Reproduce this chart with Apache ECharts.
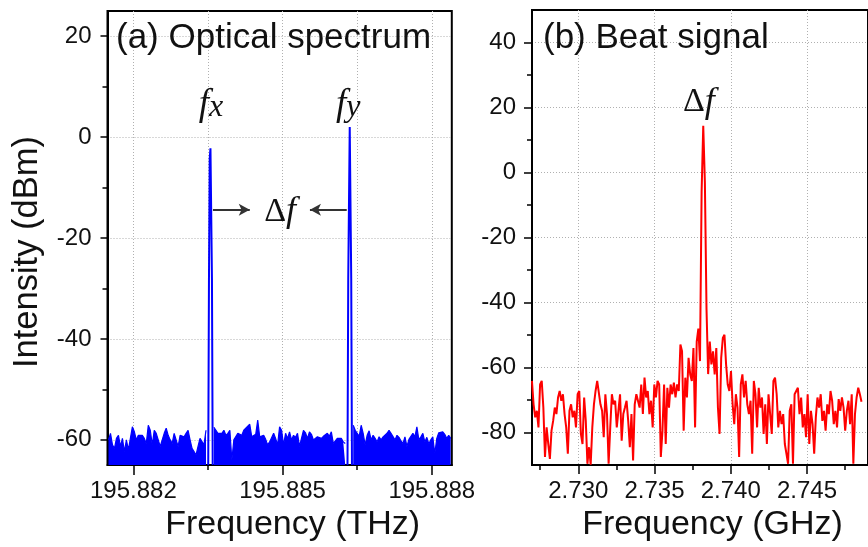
<!DOCTYPE html>
<html><head><meta charset="utf-8">
<script src="https://cdn.jsdelivr.net/npm/echarts@6/dist/echarts.min.js"></script>
<style>html,body{margin:0;padding:0;background:#fff}#c{width:868px;height:547px}</style>
</head><body><div id="c"></div><script>
// ---------- Tick values ----------
const optYTicks = [-60, -40, -20, 0, 20];
const optYMinorTicks = [-50, -30, -10, 10];
const optXTicks = [195.882, 195.8835, 195.885, 195.8865, 195.888];
const optXLabels = [195.882, 195.885, 195.888];
const rfXTicks = [2.730, 2.735, 2.740, 2.745];
const rfXMinorTicks = [2.7275, 2.7325, 2.7375, 2.7425, 2.7475];
const rfYTicks = [-80, -60, -40, -20, 0, 20, 40];
const rfYMinorTicks = [-70, -50, -30, -10, 10, 30];

// ---------- (a) Optical spectrum: OSA sweep grid (THz) and noise-floor trace (dBm) ----------
const optSweepStart = 195.8815;
const optSweepStep = 0.00004;
const optNoise = [
  -60.0, -58.7, -61.0, -61.7, -59.7, -59.1, -61.3, -59.7, -62.3, -60.0,
  -62.0, -59.7, -57.4, -58.4, -60.0, -59.1, -59.4, -59.1, -59.7, -60.7,
  -57.1, -58.1, -61.0, -58.1, -58.7, -60.0, -61.3, -60.0, -58.7, -57.7,
  -59.1, -60.0, -60.7, -58.7, -60.0, -61.3, -59.1, -59.4, -59.4, -58.7,
  -58.1, -60.0, -61.7, -62.3, -63.0, -61.3, -59.7, -60.0, -61.0, -58.1,
  null, null, null,
  -57.5, -58.1, -58.7, -58.4, -58.7, -58.1, -59.1, -58.7, -58.1, -64.0,
  -60.0, -59.7, -58.7, -58.4, -59.1, -58.1, -58.4, -57.3, -56.9, -59.4,
  -59.1, -58.9, -56.1, -59.4, -59.7, -59.1, -59.9, -61.0, -60.4, -60.7,
  -58.7, -59.7, -61.0, -57.4, -58.1, -61.0, -58.7, -59.7, -58.4, -60.0,
  -59.1, -59.5, -58.7, -61.3, -59.7, -58.1, -58.6, -59.7, -58.4, -58.9,
  -60.0, -60.2, -59.4, -59.5, -59.7, -59.3, -59.4, -58.7, -59.3, -58.4,
  -60.7, -61.0, -59.7, -60.0, -59.7, -60.4, -60.7,
  null, null, null,
  -57.1, -58.1, -58.7, -59.3, -57.1, -58.7, -61.0, -59.1, -58.2, -60.0,
  -59.1, -59.7, -60.4, -59.4, -60.0, -59.4, -59.7, -58.7, -58.1, -58.7,
  -58.7, -60.0, -59.1, -59.5, -60.2, -60.7, -59.4, -61.3, -59.9, -59.3,
  -58.7, -59.4, -57.4, -60.0, -59.4, -58.7, -60.4, -59.5, -60.8, -60.0,
  -59.4, -62.7, -59.7, -58.6, -58.7, -58.4, -58.9, -59.7, -59.1, -59.7
];
// laser lines fx and fy
const fxPeakFreq = [195.883505, 195.88352, 195.883535, 195.88355, 195.88358, 195.883595];
const fxPeakLevel = [-65, -28, -4.3, -2.2, -28, -65];
const fyPeakFreq = [195.886305, 195.88632, 195.88635, 195.88638, 195.886395];
const fyPeakLevel = [-65, -28, 2.0, -28, -65];

// ---------- (b) Beat signal: ESA sweep grid (GHz) and trace (dBm) ----------
const rfSweepStart = 2.72696;
const rfSweepStep = 0.000107;
const rfPower = [
  -64.1, -71.3, -75.3, -73.3, -78.4, -65.2, -64.1, -72.3, -87.5, -78.4,
  -83.5, -88.1, -79.4, -76.4, -72.3, -74.3, -69.2, -67.2, -70.2, -68.2,
  -74.3, -78.4, -86.5, -73.3, -71.3, -75.3, -73.3, -78.4, -68.2, -67.2,
  -80.4, -83.5, -69.2, -76.4, -89.6, -84.5, -89.9, -78.4, -71.3, -67.2,
  -64.1, -63.6, -71.3, -73.3, -81.4, -68.2, -74.3, -89.6, -78.4, -68.2,
  -71.3, -70.2, -78.4, -73.3, -68.2, -82.5, -74.3, -72.3, -70.2, -76.4,
  -84.5, -74.3, -88.6, -71.3, -68.2,
  -68.2, -72.3, -65.2, -74.3, -63.1, -69.2, -67.2, -74.3, -70.2, -78.4,
  -65.2, -69.2, -64.1, -65.2, -87.5, -79.4, -65.2, -83.5, -66.2, -72.3,
  -65.2, -68.2, -64.6, -69.2, -65.2, -67.2, -52.9, -55.0, -79.4, -63.1,
  -69.2, -57.0, -62.1, -64.1, -54.0, -78.4, -52.0, -48.0, -58.0, -6.0,
  14.4, -3.0, -42.0, -62.0, -52.0, -59.0, -55.0, -62.1, -54.0, -72.3,
  -80.4, -57.0, -50.9, -49.9, -59.0, -65.2, -67.2, -61.1, -71.3, -77.4,
  -68.2, -72.3, -87.5, -65.2, -62.1, -69.2, -64.1, -71.3,
  -74.3, -70.2, -86.5, -64.1, -68.2, -78.4, -66.2, -72.3, -69.2, -80.4,
  -71.3, -83.5, -68.2, -74.3, -80.4, -64.1, -63.1, -68.2, -78.4, -73.3,
  -77.4, -74.3, -83.5, -86.5, -89.6, -73.3, -71.3, -89.6, -68.2, -67.2,
  -66.2, -74.3, -69.2, -78.4, -74.3, -81.4, -68.2, -83.5, -73.3, -77.4,
  -86.5, -75.3, -69.2, -72.3, -68.2, -76.4, -73.3, -79.4, -71.3, -74.3,
  -67.2, -70.2, -77.4, -73.3, -78.4, -69.7, -73.3, -69.2, -72.3, -79.4,
  -73.3, -70.2, -77.4, -68.2, -89.6, -74.3, -69.2, -66.2, -68.2, -70.5
];

// ---------- build series data ----------
const optNoiseData = optNoise.map((v, i) => [+(optSweepStart + i * optSweepStep).toFixed(6), v]);
const fxData = fxPeakFreq.map((f, i) => [f, fxPeakLevel[i]]);
const fyData = fyPeakFreq.map((f, i) => [f, fyPeakLevel[i]]);
const rfData = rfPower.map((v, i) => [+(rfSweepStart + i * rfSweepStep).toFixed(6), v]);

const SANS = 'Liberation Sans, Arial, sans-serif';
const SERIF = 'Liberation Serif, Times New Roman, serif';
const INK = '#111';
const gridLine = { show: true, lineStyle: { color: '#b0b0b0', width: 1, type: [1, 2] } };
const axisLine = { show: true, onZero: false, lineStyle: { color: '#000', width: 2 } };
const hiddenLine = { show: false, onZero: false };
const tickStyle = { color: '#000', width: 1.5 };
const labelStyle = { fontFamily: SANS, fontSize: 24, color: INK };

const chart = echarts.init(document.getElementById('c'), null, { renderer: 'canvas' });
chart.setOption({
  animation: false,
  backgroundColor: '#fff',
  title: [
    { text: '(a) Optical spectrum', left: 116, top: 21, padding: 0,
      textStyle: { fontFamily: SANS, fontSize: 35, fontWeight: 'normal', color: INK } },
    { text: '(b) Beat signal', left: 543, top: 21, padding: 0,
      textStyle: { fontFamily: SANS, fontSize: 35, fontWeight: 'normal', color: INK } }
  ],
  grid: [
    { left: 107.5, top: 11, width: 344.3, height: 458.5, show: true, borderColor: '#000', borderWidth: 2, containLabel: false },
    { left: 532, top: 10, width: 343.5, height: 459, show: true, borderColor: '#000', borderWidth: 2, containLabel: false }
  ],
  xAxis: [
    { type: 'value', gridIndex: 0, position: 'bottom', min: 195.88148, max: 195.888402,
      name: 'Frequency (THz)', nameLocation: 'middle', nameGap: 41,
      nameTextStyle: { fontFamily: SANS, fontSize: 34, color: INK, padding: [0, 0, 0, 26] },
      axisLine: axisLine,
      axisTick: { show: true, length: 5, lineStyle: tickStyle, customValues: optXTicks },
      axisLabel: { show: true, margin: 14, customValues: optXLabels, ...labelStyle, formatter: v => v.toFixed(3) },
      splitLine: gridLine },
    { type: 'value', gridIndex: 0, position: 'bottom', min: 195.88148, max: 195.888402,
      axisLine: hiddenLine,
      axisTick: { show: true, length: 10, lineStyle: tickStyle, customValues: optXLabels },
      axisLabel: { show: false }, splitLine: { show: false } },
    { type: 'value', gridIndex: 1, position: 'bottom', min: 2.726964, max: 2.749,
      name: 'Frequency (GHz)', nameLocation: 'middle', nameGap: 41,
      nameTextStyle: { fontFamily: SANS, fontSize: 34, color: INK, padding: [0, 0, 0, 25] },
      axisLine: axisLine,
      axisTick: { show: true, length: 9, lineStyle: tickStyle, customValues: rfXTicks },
      axisLabel: { show: true, margin: 14, customValues: rfXTicks, ...labelStyle, formatter: v => v.toFixed(3) },
      splitLine: gridLine },
    { type: 'value', gridIndex: 1, position: 'bottom', min: 2.726964, max: 2.749,
      axisLine: hiddenLine,
      axisTick: { show: true, length: 5, lineStyle: tickStyle, customValues: rfXMinorTicks },
      axisLabel: { show: false }, splitLine: { show: false } }
  ],
  yAxis: [
    { type: 'value', gridIndex: 0, position: 'left', min: -65, max: 25,
      name: 'Intensity (dBm)', nameLocation: 'middle', nameGap: 63,
      nameTextStyle: { fontFamily: SANS, fontSize: 34.5, color: INK, padding: [0, 28, 0, 0] },
      axisLine: axisLine,
      axisTick: { show: true, length: 7, lineStyle: tickStyle, customValues: optYTicks },
      axisLabel: { show: true, margin: 16, customValues: optYTicks, ...labelStyle },
      splitLine: gridLine },
    { type: 'value', gridIndex: 0, position: 'left', min: -65, max: 25,
      axisLine: hiddenLine,
      axisTick: { show: true, length: 5, lineStyle: tickStyle, customValues: optYMinorTicks },
      axisLabel: { show: false }, splitLine: { show: false } },
    { type: 'value', gridIndex: 1, position: 'left', min: -90, max: 50,
      axisLine: axisLine,
      axisTick: { show: true, length: 8, lineStyle: tickStyle, customValues: rfYTicks },
      axisLabel: { show: true, margin: 16, customValues: rfYTicks, ...labelStyle },
      splitLine: gridLine },
    { type: 'value', gridIndex: 1, position: 'left', min: -90, max: 50,
      axisLine: hiddenLine,
      axisTick: { show: true, length: 5, lineStyle: tickStyle, customValues: rfYMinorTicks },
      axisLabel: { show: false }, splitLine: { show: false } }
  ],
  series: [
    { name: 'noise floor', type: 'line', xAxisIndex: 0, yAxisIndex: 0, data: optNoiseData,
      showSymbol: false, symbol: 'none', connectNulls: false, sampling: null,
      lineStyle: { color: '#0000ff', width: 1.2 },
      areaStyle: { color: '#0000ff', opacity: 1, origin: 'start' }, z: 3 },
    { name: 'fx', type: 'line', xAxisIndex: 0, yAxisIndex: 0, data: fxData,
      showSymbol: false, symbol: 'none', lineStyle: { color: '#0000ff', width: 2 }, z: 4,
      markPoint: {
        symbol: 'circle', symbolSize: 1, itemStyle: { color: 'rgba(0,0,0,0)' }, silent: true,
        label: { show: true, position: 'inside' },
        data: [
          { coord: [195.88356, 6.5], label: { formatter: '{f|f}{s|x}', rich: {
            f: { fontFamily: SERIF, fontStyle: 'italic', fontSize: 37, color: INK, verticalAlign: 'bottom' },
            s: { fontFamily: SERIF, fontStyle: 'italic', fontSize: 32, color: INK, verticalAlign: 'bottom', padding: [6, 0, 0, 0] } } } },
          { coord: [195.88495, -14.8], label: { formatter: '{d|Δ}{f|f}', rich: {
            d: { fontFamily: SERIF, fontSize: 34, color: INK },
            f: { fontFamily: SERIF, fontStyle: 'italic', fontSize: 36, color: INK } } } }
        ]
      },
      markLine: {
        silent: true, symbol: ['none', 'arrow'], symbolSize: [9, 11],
        lineStyle: { color: '#333', width: 2, type: 'solid' }, label: { show: false },
        data: [
          [{ coord: [195.8836, -14.4] }, { coord: [195.88434, -14.4] }],
          [{ coord: [195.88629, -14.4] }, { coord: [195.88555, -14.4] }]
        ]
      } },
    { name: 'fy', type: 'line', xAxisIndex: 0, yAxisIndex: 0, data: fyData,
      showSymbol: false, symbol: 'none', lineStyle: { color: '#0000ff', width: 2 }, z: 4,
      markPoint: {
        symbol: 'circle', symbolSize: 1, itemStyle: { color: 'rgba(0,0,0,0)' }, silent: true,
        label: { show: true, position: 'inside' },
        data: [
          { coord: [195.88632, 6.5], label: { formatter: '{f|f}{s|y}', rich: {
            f: { fontFamily: SERIF, fontStyle: 'italic', fontSize: 37, color: INK, verticalAlign: 'bottom' },
            s: { fontFamily: SERIF, fontStyle: 'italic', fontSize: 32, color: INK, verticalAlign: 'bottom', padding: [6, 0, 0, 0] } } } }
        ]
      } },
    { name: 'beat', type: 'line', xAxisIndex: 2, yAxisIndex: 2, data: rfData,
      showSymbol: false, symbol: 'none', sampling: null,
      lineStyle: { color: '#ff0000', width: 2 }, z: 3,
      markPoint: {
        symbol: 'circle', symbolSize: 1, itemStyle: { color: 'rgba(0,0,0,0)' }, silent: true,
        label: { show: true, position: 'inside' },
        data: [
          { coord: [2.73791, 21.6], label: { formatter: '{d|Δ}{f|f}', rich: {
            d: { fontFamily: SERIF, fontSize: 34, color: INK },
            f: { fontFamily: SERIF, fontStyle: 'italic', fontSize: 36, color: INK } } } }
        ]
      } }
  ]
});
</script></body></html>
